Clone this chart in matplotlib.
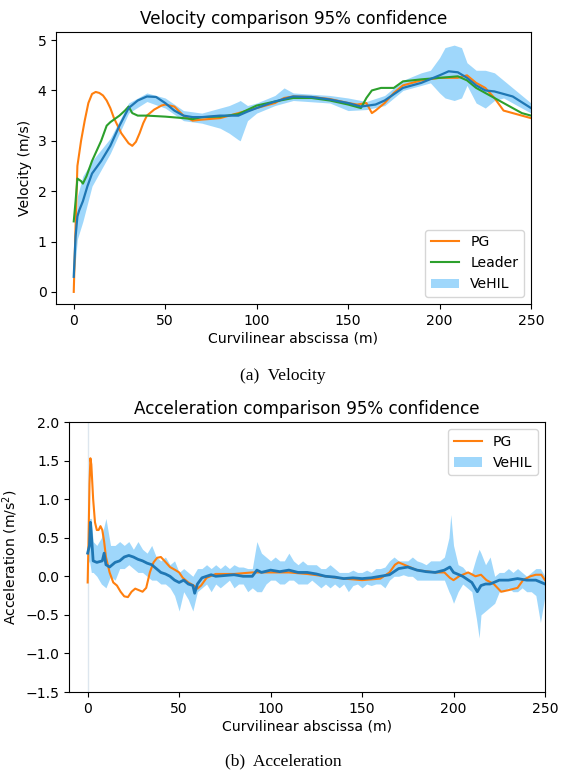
import matplotlib
matplotlib.use("Agg")
import matplotlib.pyplot as plt
import numpy as np

# ---------------- Velocity data ----------------
vel_mean_x = [0, 1, 2, 3, 5, 7.5, 10, 15, 20, 25, 30, 35, 40, 45, 50, 55, 60, 65, 70, 80, 90,
              95, 100, 110, 120, 130, 140, 150, 157, 165, 170, 180, 190, 200, 205, 210, 215,
              220, 225, 230, 240, 250]
vel_mean = [0.3, 1.1, 1.5, 1.62, 1.8, 2.1, 2.35, 2.6, 2.9, 3.3, 3.65, 3.8, 3.88, 3.87, 3.75,
            3.6, 3.5, 3.47, 3.47, 3.5, 3.5, 3.58, 3.65, 3.78, 3.88, 3.87, 3.82, 3.75, 3.68,
            3.72, 3.8, 4.05, 4.15, 4.3, 4.38, 4.36, 4.25, 4.1, 4.0, 3.98, 3.88, 3.65]

vel_band_x = [0, 2, 5, 10, 20, 30, 40, 50, 60, 70, 80, 85, 90, 91, 95, 100, 110, 115, 120,
              140, 150, 160, 170, 180, 190, 195, 200, 203, 208, 212, 215, 220, 225, 230, 235,
              240, 250]
vel_lo = [0.25, 1.05, 1.4, 2.1, 2.75, 3.55, 3.78, 3.65, 3.4, 3.35, 3.25, 3.15, 3.02, 3.0, 3.4,
          3.55, 3.7, 3.75, 3.8, 3.75, 3.6, 3.62, 3.7, 4.0, 4.1, 4.15, 3.95, 3.85, 3.8, 3.85,
          4.1, 3.75, 3.65, 3.8, 3.85, 3.75, 3.55]
vel_hi = [0.35, 1.9, 2.3, 2.6, 3.05, 3.75, 3.95, 3.85, 3.6, 3.55, 3.65, 3.7, 3.78, 3.8, 3.7,
          3.75, 3.9, 4.05, 3.95, 3.9, 3.85, 3.78, 3.9, 4.2, 4.35, 4.4, 4.65, 4.85, 4.9, 4.85,
          4.55, 4.4, 4.4, 4.35, 4.2, 4.05, 3.75]

pg_vel_x = [0, 1, 2, 4, 6, 8, 10, 12, 14, 16, 18, 20, 22, 24, 26, 28, 30, 32, 34, 36, 38, 40,
            44, 48, 50, 55, 60, 65, 70, 80, 90, 100, 110, 115, 120, 130, 140, 150, 155, 160,
            163, 165, 170, 175, 180, 190, 200, 205, 210, 215, 220, 225, 230, 235, 240, 245, 250]
pg_vel = [0.0, 1.3, 2.5, 3.0, 3.4, 3.75, 3.93, 3.97, 3.95, 3.9, 3.8, 3.65, 3.45, 3.3, 3.15,
          3.05, 2.95, 2.9, 2.98, 3.15, 3.35, 3.5, 3.62, 3.7, 3.72, 3.68, 3.5, 3.4, 3.42, 3.45,
          3.55, 3.65, 3.75, 3.85, 3.88, 3.87, 3.83, 3.75, 3.72, 3.75, 3.55, 3.6, 3.75, 3.95,
          4.1, 4.2, 4.25, 4.25, 4.25, 4.3, 4.15, 4.05, 3.85, 3.6, 3.55, 3.5, 3.45]

leader_x = [0, 1, 2, 4, 5, 7, 10, 15, 18, 20, 25, 28, 30, 32, 35, 40, 50, 60, 65, 70, 80, 90,
            100, 110, 120, 130, 140, 150, 157, 160, 163, 168, 175, 180, 190, 200, 210, 215,
            220, 230, 240, 245, 250]
leader_vel = [1.4, 1.8, 2.25, 2.2, 2.15, 2.3, 2.6, 3.0, 3.3, 3.37, 3.5, 3.6, 3.68, 3.55, 3.5,
              3.5, 3.48, 3.45, 3.43, 3.47, 3.48, 3.53, 3.7, 3.78, 3.85, 3.85, 3.8, 3.72, 3.65,
              3.85, 4.0, 4.05, 4.05, 4.18, 4.22, 4.25, 4.28, 4.2, 4.05, 3.85, 3.65, 3.55, 3.5]

# ---------------- Acceleration data ----------------
acc_band_x = [0, 1, 2, 3, 5, 7.5, 10, 12.5, 15, 17.5, 20, 22.5, 25, 27.5, 30, 32.5, 35, 37.5,
              40, 42.5, 45, 47.5, 50, 52.5, 55, 57.5, 60, 62.5, 65, 67.5, 70, 72.5, 75, 77.5,
              80, 82.5, 85, 87.5, 90, 92.5, 95, 97.5, 100, 102.5, 105, 107.5, 110, 112.5, 115,
              117.5, 120, 122.5, 125, 127.5, 130, 132.5, 135, 137.5, 140, 142.5, 145, 147.5,
              150, 152.5, 155, 157.5, 160, 162.5, 165, 167.5, 170, 172.5, 175, 177.5, 180,
              182.5, 185, 187.5, 190, 192.5, 195, 197.5, 198.5, 200, 202.5, 205, 207.5, 210,
              212.5, 214, 215, 217.5, 220, 222.5, 225, 227.5, 230, 232.5, 235, 237.5, 240,
              242.5, 245, 247.5, 250]
acc_lo = [0.15, 0.2, 0.05, 0.05, 0.0, -0.1, -0.15, 0.0, -0.05, 0.1, 0.1, 0.15, 0.1, 0.05, 0.05,
          0.0, -0.05, -0.05, -0.1, -0.1, -0.15, -0.25, -0.45, -0.2, -0.3, -0.45, -0.2, -0.15,
          -0.1, -0.2, -0.1, -0.15, -0.1, -0.05, -0.15, -0.1, -0.1, -0.2, -0.15, -0.2, -0.2,
          -0.1, -0.05, -0.05, -0.1, -0.1, -0.05, -0.05, -0.1, -0.1, -0.1, -0.05, -0.1, -0.15,
          -0.1, -0.15, -0.1, -0.15, -0.1, -0.2, -0.12, -0.1, -0.15, -0.1, -0.12, -0.1, -0.1,
          -0.15, -0.05, 0.0, 0.0, 0.02, 0.0, 0.0, -0.05, -0.05, -0.05, -0.05, -0.05, -0.05,
          -0.05, -0.2, -0.25, -0.35, -0.2, -0.1, -0.15, -0.2, -0.55, -0.8, -0.5, -0.45, -0.4,
          -0.35, -0.2, -0.2, -0.15, -0.2, -0.2, -0.15, -0.2, -0.2, -0.25, -0.6, -0.25]
acc_hi = [0.45, 0.75, 0.75, 0.45, 0.4, 0.5, 0.75, 0.4, 0.4, 0.45, 0.4, 0.45, 0.35, 0.45, 0.35,
          0.3, 0.4, 0.25, 0.2, 0.25, 0.15, 0.2, 0.05, 0.1, 0.05, 0.0, 0.1, 0.1, 0.15, 0.1,
          0.15, 0.1, 0.15, 0.1, 0.15, 0.12, 0.12, 0.1, 0.1, 0.45, 0.3, 0.25, 0.2, 0.25, 0.2,
          0.2, 0.3, 0.2, 0.15, 0.2, 0.15, 0.15, 0.15, 0.1, 0.1, 0.15, 0.1, 0.05, 0.05, 0.05,
          0.08, 0.05, 0.05, 0.08, 0.05, 0.1, 0.1, 0.12, 0.2, 0.25, 0.2, 0.2, 0.2, 0.25, 0.2,
          0.18, 0.15, 0.2, 0.2, 0.2, 0.25, 0.5, 0.8, 0.4, 0.15, 0.12, 0.05, 0.05, 0.25, 0.35,
          0.3, 0.15, 0.25, 0.0, 0.05, 0.05, 0.1, 0.05, 0.1, 0.05, 0.0, 0.05, 0.1, 0.1, 0.0]

acc_mean_x = [0, 1, 1.5, 2, 3, 5, 8, 9, 10, 12, 15, 17.5, 20, 22.5, 25, 27.5, 30, 32.5, 35,
              37.5, 40, 42.5, 45, 47.5, 50, 52.5, 55, 57.5, 58.5, 60, 62.5, 65, 67.5, 70, 75,
              80, 85, 90, 92.5, 95, 100, 105, 110, 115, 120, 125, 130, 135, 140, 145, 150,
              155, 160, 165, 170, 175, 180, 185, 190, 195, 198, 200, 205, 210, 213, 215, 217.5,
              220, 225, 230, 235, 240, 245, 250]
acc_mean = [0.3, 0.4, 0.7, 0.55, 0.2, 0.18, 0.2, 0.3, 0.15, 0.12, 0.18, 0.2, 0.25, 0.27, 0.25,
            0.22, 0.2, 0.17, 0.15, 0.1, 0.05, 0.03, 0.0, -0.05, -0.08, -0.05, -0.1, -0.12,
            -0.22, -0.1, -0.02, 0.0, 0.02, 0.0, 0.01, 0.02, 0.0, 0.0, 0.08, 0.05, 0.08, 0.06,
            0.08, 0.05, 0.05, 0.03, 0.0, -0.01, -0.03, -0.02, -0.03, -0.02, 0.0, 0.02, 0.1,
            0.12, 0.08, 0.06, 0.05, 0.08, 0.12, 0.05, 0.0, -0.08, -0.2, -0.12, -0.1, -0.1,
            -0.05, -0.05, -0.03, -0.05, -0.05, -0.1]

pg_acc_x = [0, 0.5, 1, 1.5, 2, 3, 4, 5, 6, 7, 8, 9, 10, 12, 14, 16, 18, 20, 22, 24, 26, 28,
            30, 32, 34, 36, 38, 40, 42, 45, 48, 50, 52, 55, 58, 60, 62, 65, 70, 80, 90, 100,
            110, 120, 130, 140, 150, 160, 165, 168, 170, 173, 180, 190, 195, 198, 200, 203,
            208, 212, 215, 218, 222, 226, 230, 235, 238, 242, 245, 248, 250]
pg_acc = [-0.08, 0.5, 1.2, 1.53, 1.45, 1.0, 0.7, 0.6, 0.6, 0.65, 0.6, 0.45, 0.25, 0.05, -0.08,
          -0.12, -0.2, -0.26, -0.27, -0.2, -0.16, -0.18, -0.2, -0.15, 0.05, 0.18, 0.24, 0.25,
          0.2, 0.12, 0.08, 0.05, -0.02, -0.08, -0.12, -0.16, -0.12, -0.02, 0.03, 0.03, 0.05,
          0.05, 0.05, 0.03, 0.0, -0.03, -0.05, -0.03, 0.05, 0.15, 0.18, 0.15, 0.08, 0.05, 0.05,
          -0.02, -0.05, 0.0, 0.05, 0.0, 0.02, -0.05, -0.1, -0.2, -0.18, -0.15, -0.05, 0.0,
          0.02, 0.02, -0.05]

# ---------------- Figure ----------------
W, H = 562, 773
fig = plt.figure(figsize=(W / 100, H / 100), dpi=100)
band_color = "lightskyblue"
fs = 10.1
tfs = 12.1

def px_axes(l, r, t, b):
    return fig.add_axes([l / W, 1 - b / H, (r - l) / W, (b - t) / H])

for_tick = dict(labelsize=fs, length=3.4, width=0.8)

# Top: velocity
ax1 = px_axes(56, 531, 32, 304)
ax1.fill_between(vel_band_x, vel_lo, vel_hi, color=band_color, alpha=0.8, lw=0, label="VeHIL")
ax1.plot(pg_vel_x, pg_vel, color="C1", lw=1.5, label="PG")
ax1.plot(leader_x, leader_vel, color="C2", lw=1.5, label="Leader")
ax1.plot(vel_mean_x, vel_mean, color="C0", lw=1.6)
ax1.set_xlim(-9.7, 250)
ax1.set_ylim(-0.24, 5.16)
ax1.set_xticks([0, 50, 100, 150, 200, 250])
ax1.set_yticks([0, 1, 2, 3, 4, 5])
ax1.tick_params(**for_tick)
ax1.set_title("Velocity comparison 95% confidence", fontsize=tfs, pad=5.5)
ax1.set_xlabel("Curvilinear abscissa (m)", fontsize=fs, labelpad=3)
ax1.set_ylabel("Velocity (m/s)", fontsize=fs, labelpad=4)
h, l = ax1.get_legend_handles_labels()
order = [l.index("PG"), l.index("Leader"), l.index("VeHIL")]
ax1.legend([h[i] for i in order], [l[i] for i in order], loc="lower right", fontsize=fs)

# Bottom: acceleration
ax2 = px_axes(69, 545, 422, 692)
ax2.axvline(0, color="#dde6ee", lw=1.0, zorder=0)
ax2.fill_between(acc_band_x, acc_lo, acc_hi, color=band_color, alpha=0.8, lw=0, label="VeHIL")
ax2.plot(pg_acc_x, pg_acc, color="C1", lw=1.5, label="PG")
ax2.plot(acc_mean_x, acc_mean, color="C0", lw=2.0)
ax2.set_xlim(-10.2, 250)
ax2.set_ylim(-1.5, 2.0)
ax2.set_xticks([0, 50, 100, 150, 200, 250])
ax2.set_yticks([-1.5, -1.0, -0.5, 0.0, 0.5, 1.0, 1.5, 2.0])
ax2.tick_params(**for_tick)
ax2.set_title("Acceleration comparison 95% confidence", fontsize=tfs, pad=5.5)
ax2.set_xlabel("Curvilinear abscissa (m)", fontsize=fs, labelpad=3)
ax2.set_ylabel("Acceleration (m/s$^2$)", fontsize=fs, labelpad=4)
h, l = ax2.get_legend_handles_labels()
order = [l.index("PG"), l.index("VeHIL")]
ax2.legend([h[i] for i in order], [l[i] for i in order], loc="upper right", fontsize=fs)

# Captions
fig.text(283 / W, 1 - 376 / H, "(a)  Velocity", ha="center", va="center",
         family="Liberation Serif", fontsize=12.5)
fig.text(283 / W, 1 - 761 / H, "(b)  Acceleration", ha="center", va="center",
         family="Liberation Serif", fontsize=12.5)

fig.savefig("out.png", dpi=100)
